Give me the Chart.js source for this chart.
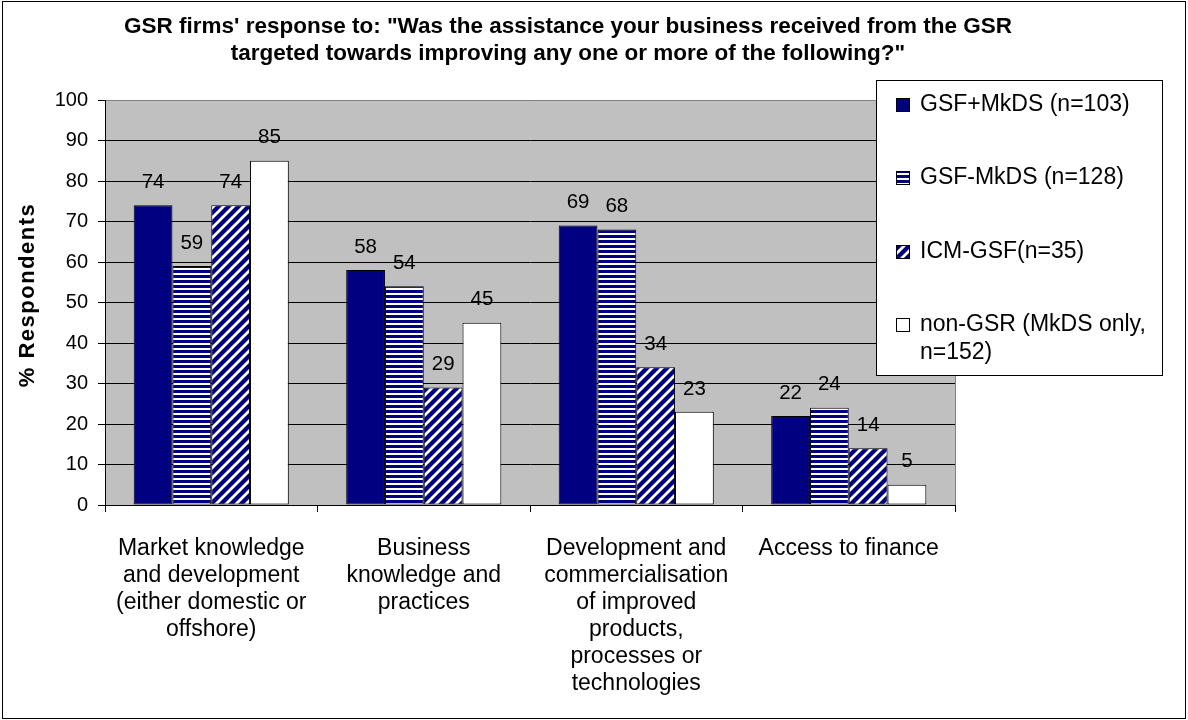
<!DOCTYPE html>
<html>
<head>
<meta charset="utf-8">
<script src="https://cdn.jsdelivr.net/npm/chart.js@4.4.1/dist/chart.umd.min.js"></script>
<style>
  html, body { margin: 0; padding: 0; background: #fff; }
  #wrap { width: 1188px; height: 720px; position: relative; }
</style>
</head>
<body>
<div id="wrap"><canvas id="gsrChart" width="1188" height="720"></canvas></div>
<script>
const FONT = "'Liberation Sans', Arial, sans-serif";

const titleLines = [
  'GSR firms\' response to: "Was the assistance your business received from the GSR',
  'targeted towards improving any one or more of the following?"'
];
const yAxisTitle = '% Respondents';

const categories = [
  ['Market knowledge', 'and development', '(either domestic or', 'offshore)'],
  ['Business', 'knowledge and', 'practices'],
  ['Development and', 'commercialisation', 'of improved', 'products,', 'processes or', 'technologies'],
  ['Access to finance']
];

const seriesLabels = ['GSF+MkDS (n=103)', 'GSF-MkDS (n=128)', 'ICM-GSF(n=35)', 'non-GSR (MkDS only, n=152)'];
const gsfMkds   = [74, 58, 69, 22];
const gsfNoMkds = [59, 54, 68, 24];
const icmGsf    = [74, 29, 34, 14];
const nonGsr    = [85, 45, 23, 5];

const yTicks = { min: 0, max: 100, step: 10 };

const NAVY = '#000080';

// fill patterns for the striped series
function stripePattern() {
  const c = document.createElement('canvas');
  c.width = 5; c.height = 5;
  const g = c.getContext('2d');
  g.fillStyle = NAVY; g.fillRect(0, 0, 5, 5);
  g.fillStyle = '#fff'; g.fillRect(0, 3, 5, 2);
  return g.createPattern(c, 'repeat');
}

function diagonalPattern() {
  const s = 10;
  const c = document.createElement('canvas');
  c.width = s; c.height = s;
  const g = c.getContext('2d');
  g.fillStyle = NAVY; g.fillRect(0, 0, s, s);
  g.strokeStyle = '#fff'; g.lineWidth = 2.8;
  g.beginPath();
  g.moveTo(-s / 2, s / 2); g.lineTo(s / 2, -s / 2);
  g.moveTo(0, s); g.lineTo(s, 0);
  g.moveTo(s / 2, s * 1.5); g.lineTo(s * 1.5, s / 2);
  g.stroke();
  return g.createPattern(c, 'repeat');
}

const fills = [NAVY, stripePattern(), diagonalPattern(), '#ffffff'];
const seriesData = [gsfMkds, gsfNoMkds, icmGsf, nonGsr];

// gray plot background, outer frame, titles and the boxed legend
const chartDecor = {
  id: 'chartDecor',
  beforeDraw(chart) {
    const { ctx, chartArea: a } = chart;
    ctx.save();
    ctx.fillStyle = '#fff';
    ctx.fillRect(0, 0, chart.width, chart.height);
    ctx.fillStyle = '#c0c0c0';
    ctx.fillRect(a.left, a.top, a.right - a.left, a.bottom - a.top);
    ctx.restore();
  },
  afterDatasetsDraw(chart) {
    const { ctx } = chart;
    ctx.save();
    ctx.font = `20.5px ${FONT}`;
    ctx.fillStyle = '#000';
    ctx.textAlign = 'center';
    ctx.textBaseline = 'middle';
    chart.data.datasets.forEach((ds, i) => {
      chart.getDatasetMeta(i).data.forEach((bar, j) => {
        ctx.fillText(String(ds.data[j]), bar.x, bar.y - 23);
      });
    });
    ctx.restore();
  },
  afterDraw(chart) {
    const { ctx, chartArea: a } = chart;
    ctx.save();

    // plot area right edge
    ctx.strokeStyle = '#808080';
    ctx.lineWidth = 1;
    ctx.beginPath();
    ctx.moveTo(Math.round(a.right) + 0.5, a.top);
    ctx.lineTo(Math.round(a.right) + 0.5, a.bottom);
    ctx.stroke();

    // outer frame
    ctx.strokeStyle = '#000';
    ctx.strokeRect(2.5, 1.5, 1183, 717);

    // chart title
    ctx.fillStyle = '#000';
    ctx.font = `bold 22.5px ${FONT}`;
    ctx.textAlign = 'center';
    ctx.textBaseline = 'middle';
    ctx.fillText(titleLines[0], 568, 27);
    ctx.fillText(titleLines[1], 568, 54);

    // y axis title
    ctx.save();
    ctx.translate(28, 295);
    ctx.rotate(-Math.PI / 2);
    ctx.font = `bold 22px ${FONT}`;
    ctx.letterSpacing = '1.5px';
    ctx.fillText(yAxisTitle, 0, 0);
    ctx.restore();

    // legend box
    const box = { x: 876.5, y: 80.5, w: 286, h: 295 };
    ctx.fillStyle = '#fff';
    ctx.fillRect(box.x, box.y, box.w, box.h);
    ctx.strokeStyle = '#000';
    ctx.strokeRect(box.x, box.y, box.w, box.h);

    ctx.font = `23px ${FONT}`;
    ctx.textAlign = 'left';
    const rowY = [105, 178, 252, 325];
    chart.data.datasets.forEach((ds, i) => {
      const y = rowY[i];
      ctx.fillStyle = ds.backgroundColor;
      ctx.fillRect(897, y - 6, 12, 12);
      ctx.strokeStyle = '#000';
      ctx.strokeRect(896.5, y - 6.5, 13, 13);
      ctx.fillStyle = '#000';
      wrapText(ctx, ds.label, 236).forEach((line, k) => {
        ctx.fillText(line, 920, y + k * 28);
      });
    });
    ctx.restore();
  }
};

function wrapText(ctx, text, maxWidth) {
  const words = text.split(' ');
  const lines = [];
  let cur = '';
  words.forEach(w => {
    const test = cur ? cur + ' ' + w : w;
    if (ctx.measureText(test).width > maxWidth && cur) {
      lines.push(cur);
      cur = w;
    } else {
      cur = test;
    }
  });
  if (cur) lines.push(cur);
  return lines;
}

new Chart(document.getElementById('gsrChart'), {
  type: 'bar',
  data: {
    labels: categories,
    datasets: seriesLabels.map((label, i) => ({
      label,
      data: seriesData[i],
      backgroundColor: fills[i],
      borderColor: '#000',
      borderWidth: 1,
      borderSkipped: false,
      categoryPercentage: 0.73,
      barPercentage: 1
    }))
  },
  options: {
    responsive: false,
    animation: false,
    devicePixelRatio: 1,
    layout: { padding: { top: 100, right: 233, bottom: 0, left: 0 } },
    plugins: {
      legend: { display: false },
      title: { display: false },
      tooltip: { enabled: false }
    },
    scales: {
      x: {
        offset: true,
        grid: {
          offset: true,
          drawOnChartArea: false,
          tickLength: 7,
          color: '#000'
        },
        border: { color: '#000', width: 1 },
        ticks: {
          color: '#000',
          font: { family: FONT, size: 23, lineHeight: 27 / 23 },
          padding: 23,
          maxRotation: 0,
          autoSkip: false
        },
        afterFit(scale) { scale.height = 215; }
      },
      y: {
        min: yTicks.min,
        max: yTicks.max,
        grid: {
          color: ctx => (ctx.tick && ctx.tick.value === yTicks.max ? '#808080' : '#000'),
          tickColor: '#000',
          tickLength: 7,
          lineWidth: 1
        },
        border: { color: '#000', width: 1 },
        ticks: {
          stepSize: yTicks.step,
          color: '#000',
          font: { family: FONT, size: 20 },
          padding: 10
        },
        afterFit(scale) { scale.width = 105; }
      }
    }
  },
  plugins: [chartDecor]
});
</script>
</body>
</html>
